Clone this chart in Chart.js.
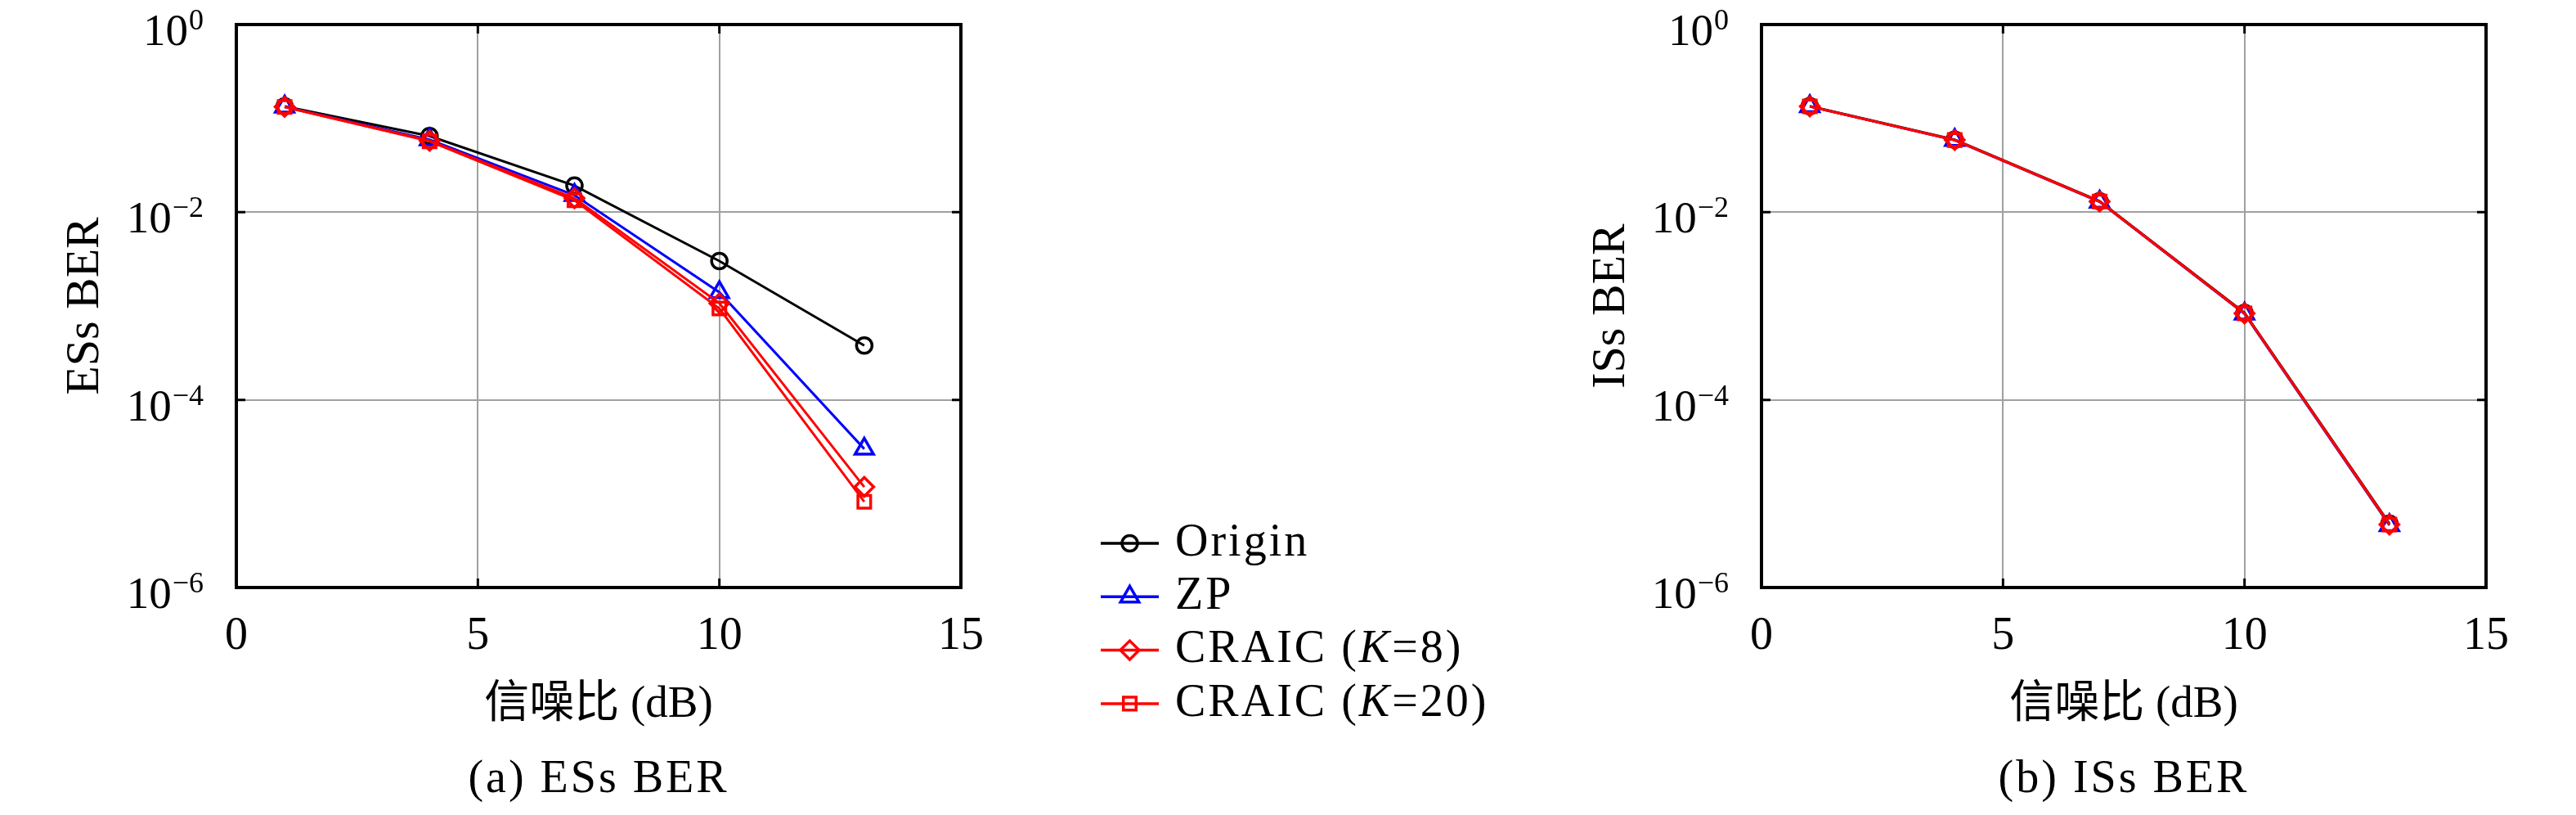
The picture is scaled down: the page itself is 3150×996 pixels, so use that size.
<!DOCTYPE html>
<html>
<head>
<meta charset="utf-8">
<script src="https://cdn.jsdelivr.net/npm/chart.js@4.4.0/dist/chart.umd.min.js"></script>
<style>
html, body { margin: 0; padding: 0; background: #fff; }
#wrap { position: relative; width: 3150px; height: 996px; }
#chartA { position: absolute; left: 0; top: 0; }
#chartB { position: absolute; left: 1900px; top: 0; }
</style>
</head>
<body>
<div id="wrap">
  <canvas id="chartA" width="1900" height="996"></canvas>
  <canvas id="chartB" width="1250" height="996"></canvas>
</div>
<script>
// x values (SNR in dB) and axis ticks
const snr = [1, 4, 7, 10, 13];
const xTicks = [0, 5, 10, 15];
const yTicks = [1e-6, 1e-4, 1e-2, 1];

// (a) ESs BER
const esOrigin = [0.1345, 0.0648, 0.0192, 0.00302, 3.8e-4];
const esZP     = [0.133, 0.0594, 0.0152, 1.40e-3, 3.0e-5];
const esK8     = [0.133, 0.0577, 0.0141, 1.07e-3, 1.18e-5];
const esK20    = [0.132, 0.0570, 0.0134, 9.4e-4, 8.2e-6];

// (b) ISs BER
const isOrigin = [0.135, 0.0592, 0.0131, 8.45e-4, 4.8e-6];
const isZP     = [0.134, 0.0585, 0.0129, 8.25e-4, 4.6e-6];
const isK8     = [0.134, 0.0588, 0.0130, 8.35e-4, 4.7e-6];
const isK20    = [0.134, 0.0588, 0.0130, 8.35e-4, 4.7e-6];

const seriesNames = ['Origin', 'ZP', 'CRAIC (K=8)', 'CRAIC (K=20)'];
const colors = ['#000000', '#0000ff', '#ff0000', '#ff0000'];
const markers = ['circle', 'triangle', 'rectRot', 'rect'];
const markerR = [9.5, 13, 11.5, 11];

const FONT = "'Liberation Serif', 'DejaVu Serif', 'Noto Sans CJK SC', serif";

function makeDatasets(series) {
  return series.map((vals, i) => ({
    label: seriesNames[i],
    data: snr.map((x, j) => ({ x: x, y: vals[j] })),
    borderColor: colors[i],
    borderWidth: 3,
    pointStyle: markers[i],
    pointRadius: markerR[i],
    pointBorderWidth: 3.5,
    pointBorderColor: colors[i],
    pointBackgroundColor: 'rgba(0,0,0,0)',
    fill: false,
    tension: 0,
    order: 4 - i   // red curves on top
  }));
}

function drawMarker(ctx, style, x, y, r) {
  ctx.beginPath();
  if (style === 'circle') {
    ctx.arc(x, y, r, 0, Math.PI * 2);
  } else if (style === 'triangle') {
    for (let k = 0; k < 3; k++) {
      const a = k * 2 * Math.PI / 3;
      const px = x + Math.sin(a) * r, py = y - Math.cos(a) * r;
      if (k === 0) ctx.moveTo(px, py); else ctx.lineTo(px, py);
    }
    ctx.closePath();
  } else if (style === 'rectRot') {
    ctx.moveTo(x - r, y); ctx.lineTo(x, y - r); ctx.lineTo(x + r, y); ctx.lineTo(x, y + r);
    ctx.closePath();
  } else {
    const s = Math.SQRT1_2 * r;
    ctx.rect(x - s, y - s, 2 * s, 2 * s);
  }
  ctx.stroke();
}

function drawLegend(ctx) {
  const x0 = 1346, x1 = 1417, tx = 1437;
  seriesNames.forEach((name, i) => {
    const y = 664 + 65.3 * i;
    ctx.strokeStyle = colors[i];
    ctx.lineWidth = 3.5;
    ctx.beginPath(); ctx.moveTo(x0, y); ctx.lineTo(x1, y); ctx.stroke();
    drawMarker(ctx, markers[i], (x0 + x1) / 2, y, markerR[i]);
    ctx.fillStyle = '#000';
    ctx.textAlign = 'left';
    ctx.textBaseline = 'middle';
    ctx.letterSpacing = '3px';
    // "K" is set in italic, like a math symbol
    const m = name.match(/^(.*\()K(=.*)$/);
    let x = tx;
    const parts = m ? [[m[1], ''], ['K', 'italic '], [m[2], '']] : [[name, '']];
    parts.forEach(p => {
      ctx.font = p[1] + '56px ' + FONT;
      ctx.fillText(p[0], x, y);
      x += ctx.measureText(p[0]).width;
    });
    ctx.letterSpacing = '0px';
  });
}

const decorPlugin = {
  id: 'decor',
  afterDraw(chart, args, opts) {
    const ctx = chart.ctx, a = chart.chartArea;
    const xs = chart.scales.x, ys = chart.scales.y;
    ctx.save();
    // inward tick marks on all four sides
    ctx.strokeStyle = '#000';
    ctx.lineWidth = 3;
    ctx.beginPath();
    xTicks.slice(1, -1).forEach(v => {
      const px = xs.getPixelForValue(v);
      ctx.moveTo(px, a.bottom); ctx.lineTo(px, a.bottom - 11);
      ctx.moveTo(px, a.top); ctx.lineTo(px, a.top + 11);
    });
    yTicks.slice(1, -1).forEach(v => {
      const py = ys.getPixelForValue(v);
      ctx.moveTo(a.left, py); ctx.lineTo(a.left + 11, py);
      ctx.moveTo(a.right, py); ctx.lineTo(a.right - 11, py);
    });
    ctx.stroke();
    // frame
    ctx.lineWidth = 4;
    ctx.strokeRect(a.left, a.top, a.right - a.left, a.bottom - a.top);
    // y tick labels 10^n
    ctx.fillStyle = '#000';
    ctx.textBaseline = 'alphabetic';
    ctx.textAlign = 'right';
    yTicks.forEach(v => {
      const py = ys.getPixelForValue(v);
      const e = Math.round(Math.log10(v));
      const expStr = e === 0 ? '0' : '\u2212' + (-e);
      const right = a.left - opts.labelGap;
      ctx.font = '36px ' + FONT;
      const we = ctx.measureText(expStr).width;
      ctx.fillText(expStr, right, py + 6);
      ctx.font = '55px ' + FONT;
      ctx.fillText('10', right - we - 1, py + 25);
    });
    // caption under the axis
    ctx.textAlign = 'center';
    ctx.font = '56px ' + FONT;
    ctx.letterSpacing = '3px';
    ctx.fillText(opts.caption, (a.left + a.right) / 2, 968);
    ctx.letterSpacing = '0px';
    if (opts.legend) drawLegend(ctx);
    ctx.restore();
  }
};

function makeChart(id, series, yTitle, caption, axisW, padRight, titlePad, legend) {
  return new Chart(document.getElementById(id).getContext('2d'), {
    type: 'line',
    data: { datasets: makeDatasets(series) },
    plugins: [decorPlugin],
    options: {
      responsive: false,
      animation: false,
      devicePixelRatio: 1,
      layout: { padding: { left: 0, right: padRight, top: 30, bottom: 0 } },
      plugins: {
        legend: { display: false },
        tooltip: { enabled: false },
        decor: { caption: caption, legend: legend, labelGap: 40 }
      },
      scales: {
        x: {
          type: 'linear', min: 0, max: 15,
          afterBuildTicks: s => { s.ticks = xTicks.map(v => ({ value: v })); },
          afterFit: s => { s.height = 278; },
          ticks: { color: '#000', font: { family: FONT, size: 56 }, padding: 27, maxRotation: 0 },
          grid: { color: '#a0a0a0', lineWidth: 2, drawTicks: false },
          border: { display: false },
          title: { display: true, text: '信噪比 (dB)', color: '#000',
                   font: { family: FONT, size: 55 }, padding: { top: 0, bottom: 101 } }
        },
        y: {
          type: 'logarithmic', min: 1e-6, max: 1,
          afterBuildTicks: s => { s.ticks = yTicks.map(v => ({ value: v })); },
          afterFit: s => { s.width = axisW; },
          ticks: { display: false },
          grid: { color: '#a0a0a0', lineWidth: 2, drawTicks: false },
          border: { display: false },
          title: { display: true, text: yTitle, color: '#000',
                   font: { family: FONT, size: 58 }, padding: { top: titlePad, bottom: 0 } }
        }
      }
    }
  });
}

makeChart('chartA', [esOrigin, esZP, esK8, esK20], 'ESs BER', '(a) ESs BER', 289, 725, 70, true);
makeChart('chartB', [isOrigin, isZP, isK8, isK20], 'ISs BER', '(b) ISs BER', 254, 110, 36, false);
</script>
</body>
</html>
